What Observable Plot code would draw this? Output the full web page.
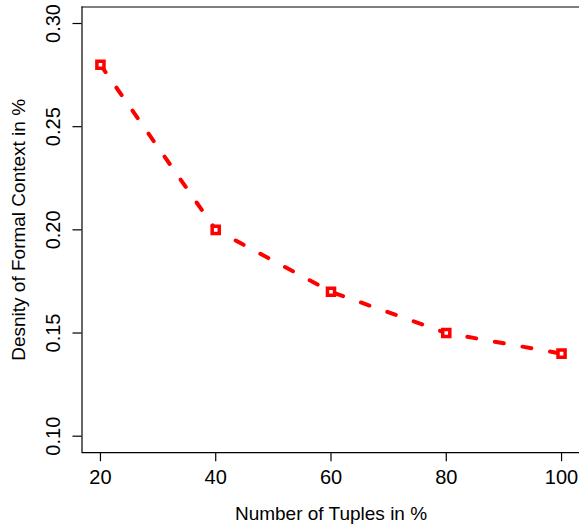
<!DOCTYPE html>
<html>
<head>
<meta charset="utf-8">
<script src="https://cdn.jsdelivr.net/npm/d3@7"></script>
<script src="https://cdn.jsdelivr.net/npm/@observablehq/plot@0.6"></script>
<style>
  html, body { margin: 0; padding: 0; background: #fff; }
  #chart svg { display: block; }
</style>
</head>
<body>
<div id="chart"></div>
<script>
const tuples = [20, 40, 60, 80, 100];
const density = [0.28, 0.20, 0.17, 0.15, 0.14];
const xTicks = [20, 40, 60, 80, 100];
const yTicks = [0.10, 0.15, 0.20, 0.25, 0.30];
const xDomain = [16.8, 103.2];
const yDomain = [0.092, 0.308];
const xTitle = "Number of Tuples in %";
const yTitle = "Desnity of Formal Context in %";

const data = tuples.map((t, i) => ({x: t, y: density[i]}));
const fontFamily = "'Liberation Sans', Arial, Helvetica, sans-serif";

const chart = Plot.plot({
  width: 579,
  height: 530,
  marginLeft: 81.5,
  marginRight: -0.5,
  marginTop: 6.5,
  marginBottom: 77.8,
  style: {fontFamily, background: "#fff", color: "#000"},
  x: {domain: xDomain},
  y: {domain: yDomain},
  marks: [
    Plot.ruleY(yDomain, {stroke: "#000", strokeWidth: 1.2}),
    Plot.ruleX([xDomain[0]], {stroke: "#000", strokeWidth: 1.2}),
    Plot.axisX({
      ticks: xTicks, tickSize: 9, tickPadding: 8, tickFormat: d => String(d),
      fontSize: 20, stroke: "#000", strokeWidth: 1.2,
      label: null
    }),
    Plot.text([xTitle], {
      text: d => d, frameAnchor: "bottom", dy: 67, textAnchor: "middle",
      lineAnchor: "bottom", fontSize: 19, fill: "#000"
    }),
    Plot.axisY({
      ticks: yTicks, tickSize: 9, tickFormat: () => "", stroke: "#000", strokeWidth: 1.2,
      label: null
    }),
    Plot.text(yTicks, {
      y: d => d, text: d => d3.format(".2f")(d), frameAnchor: "left",
      dx: -22, rotate: -90, textAnchor: "middle", lineAnchor: "bottom",
      fontSize: 20, fill: "#000"
    }),
    Plot.text([yTitle], {
      text: d => d, frameAnchor: "left", dx: -57, rotate: -90,
      textAnchor: "middle", lineAnchor: "bottom", fontSize: 19, fill: "#000"
    }),
    Plot.line(data, {
      x: "x", y: "y", stroke: "#ff0000", strokeWidth: 4,
      strokeDasharray: "9,19", strokeLinecap: "round", strokeLinejoin: "round"
    }),
    Plot.dot(data, {
      x: "x", y: "y", symbol: "square", r: 4, stroke: "#ff0000",
      strokeWidth: 3.5, fill: "#fff"
    })
  ]
});
document.getElementById("chart").appendChild(chart);
</script>
</body>
</html>
